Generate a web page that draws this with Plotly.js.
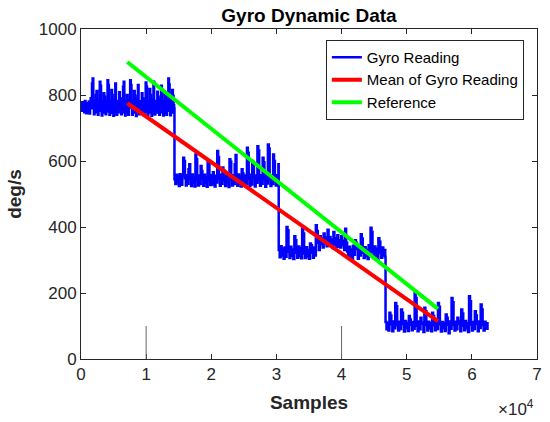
<!DOCTYPE html>
<html>
<head>
<meta charset="utf-8">
<script src="https://cdn.plot.ly/plotly-3.0.1.min.js"></script>
<style>html,body{margin:0;padding:0;background:#fff;}#chart{width:550px;height:422px;}</style>
</head>
<body>
<div id="chart"></div>
<script>
// Step segments of the gyro reading (sample index ranges)
const segStart = [0, 14350, 30350, 46750];
const segEnd   = [14300, 30300, 46700, 62400];

// Gyro readings (deg/s), per step segment
const seg1Values = [765,752,778,760,770,748,782,762,745,775,768,750,780,744,772,
790,760,835,850,770,742,783,748,800,812,770,740,786,752,840,
828,765,738,781,747,805,795,768,742,784,750,845,830,772,740,
780,746,815,800,766,737,785,750,835,762,740,782,770,748,808,
790,770,742,786,748,825,840,765,738,780,746,800,772,740,784,
762,845,830,768,740,783,747,812,798,770,736,786,750,830,762,
742,781,768,746,805,790,771,739,784,748,838,826,766,740,780,
747,818,800,768,737,785,751,840,765,741,782,769,747,810,795,
770,740,786,748,828,815,765,738,781,746,800,772,740,784,752,
850,832,768,739,783,747,815,798,770,760];
const seg2Values = [545,530,558,536,552,524,560,540,528,556,
610,600,548,526,557,531,575,590,545,524,
559,534,552,523,620,605,542,526,556,530,
585,570,546,525,558,533,550,522,600,592,
544,527,557,529,566,548,523,555,535,630,
612,546,525,558,531,580,572,543,524,556,
533,551,521,605,598,545,526,557,530,590,
618,547,525,559,532,553,523,575,562,544,
526,556,531,640,625,546,524,558,529,600,
585,548,523,556,534,645,632,544,525,557,
531,610,596,547,522,558,532,650,638,545,
524,555,530,620,600,548,526,557,531,590];
const seg3Values = [330,308,342,314,335,304,338,310,400,390,
325,306,340,313,332,303,372,360,322,307,
341,312,336,305,395,380,320,306,339,311,
330,304,350,345,322,307,338,314,405,388,
352,330,372,348,365,338,380,350,368,342,
392,356,370,345,362,336,385,348,366,340,
375,340,360,338,372,345,358,330,395,352,
326,306,340,311,332,304,343,316,360,352,
333,304,342,314,378,365,322,306,339,311,
331,303,345,316,398,385,325,306,341,313,
334,304,366,355,322,307,338,314,330,310];
const seg4Values = [112,90,108,86,140,132,105,84,114,93,
170,160,102,86,113,91,150,140,106,83,
115,94,109,85,130,120,104,87,112,92,
200,185,101,84,114,90,125,110,107,82,
155,145,103,86,113,93,108,84,140,130,
102,87,115,91,170,158,105,83,112,94,
109,85,135,125,104,78,114,92,185,172,
103,86,113,90,125,115,106,84,150,138,
101,87,115,93,108,82,190,175,104,86,
112,91,145,132,106,84,114,94,165,150,
103,86,113,92,108,88];

// Mean of gyro reading and reference lines (endpoints)
const meanX = [7100, 54800];
const meanY = [775, 115];
const refX  = [7100, 54800];
const refY  = [900, 152];

// Axis ticks
const xTickVals = [0, 10000, 20000, 30000, 40000, 50000, 60000, 70000];
const xTickText = ['0','1','2','3','4','5','6','7'];
const yTickVals = [0, 200, 400, 600, 800, 1000];

// Long tick marks visible in the original figure
const longTickX = [10000, 40000];
const longTickTop = 100;

const segs = [seg1Values, seg2Values, seg3Values, seg4Values];
const gx = [], gy = [];
segs.forEach((vals, s) => {
  const n = vals.length;
  vals.forEach((v, i) => {
    gx.push(segStart[s] + (segEnd[s] - segStart[s]) * i / (n - 1));
    gy.push(v);
  });
});

const FONT = '"Liberation Sans", Arial, Helvetica, sans-serif';
const AX = '#262626';

const traces = [
  {x: gx, y: gy, type: 'scatter', mode: 'lines', name: 'Gyro Reading',
   line: {color: '#0000ff', width: 2.5, shape: 'hv'}},
  {x: meanX, y: meanY, type: 'scatter', mode: 'lines', name: 'Mean of Gyro Reading',
   line: {color: '#ff0000', width: 4}},
  {x: refX, y: refY, type: 'scatter', mode: 'lines', name: 'Reference',
   line: {color: '#00ff00', width: 4}}
];

const layout = {
  width: 550, height: 422,
  margin: {l: 81, r: 13, t: 29, b: 63},
  paper_bgcolor: '#ffffff', plot_bgcolor: '#ffffff',
  font: {family: FONT, color: AX, size: 17},
  showlegend: true,
  title: {text: '<b>Gyro Dynamic Data</b>', font: {family: FONT, size: 19, color: '#000'},
          xref: 'paper', x: 0.5, xanchor: 'center', y: 0.964, yanchor: 'middle'},
  xaxis: {range: [0, 70000], tickvals: xTickVals, ticktext: xTickText,
          ticks: 'inside', ticklen: 5, tickcolor: AX, tickwidth: 1,
          showline: true, linecolor: AX, linewidth: 1, mirror: 'ticks',
          showgrid: false, zeroline: false,
          tickfont: {family: FONT, size: 17, color: AX},
          title: {text: '<b>Samples</b>', font: {family: FONT, size: 19, color: AX}, standoff: 12}},
  yaxis: {range: [0, 1000], tickvals: yTickVals,
          ticks: 'inside', ticklen: 5, tickcolor: AX, tickwidth: 1,
          showline: true, linecolor: AX, linewidth: 1, mirror: 'ticks',
          showgrid: false, zeroline: false,
          tickfont: {family: FONT, size: 17, color: AX},
          title: {text: '<b>deg/s</b>', font: {family: FONT, size: 19, color: AX}, standoff: 12}},
  legend: {x: 0.537, y: 0.967, xanchor: 'left', yanchor: 'top',
           bgcolor: '#ffffff', bordercolor: AX, borderwidth: 1,
           font: {family: FONT, size: 15, color: '#000'},
           itemwidth: 30, tracegroupgap: 0},
  annotations: [{text: '×10<sup>4</sup>', xref: 'paper', yref: 'paper', x: 0.997, y: -0.148,
                 xanchor: 'right', yanchor: 'middle', showarrow: false,
                 font: {family: FONT, size: 17, color: AX}}],
  shapes: longTickX.map(x => ({type: 'line', xref: 'x', yref: 'y', x0: x, x1: x, y0: 0, y1: longTickTop,
                               line: {color: '#666', width: 1}}))
};

Plotly.newPlot('chart', traces, layout, {displayModeBar: false, staticPlot: true});
</script>
</body>
</html>
